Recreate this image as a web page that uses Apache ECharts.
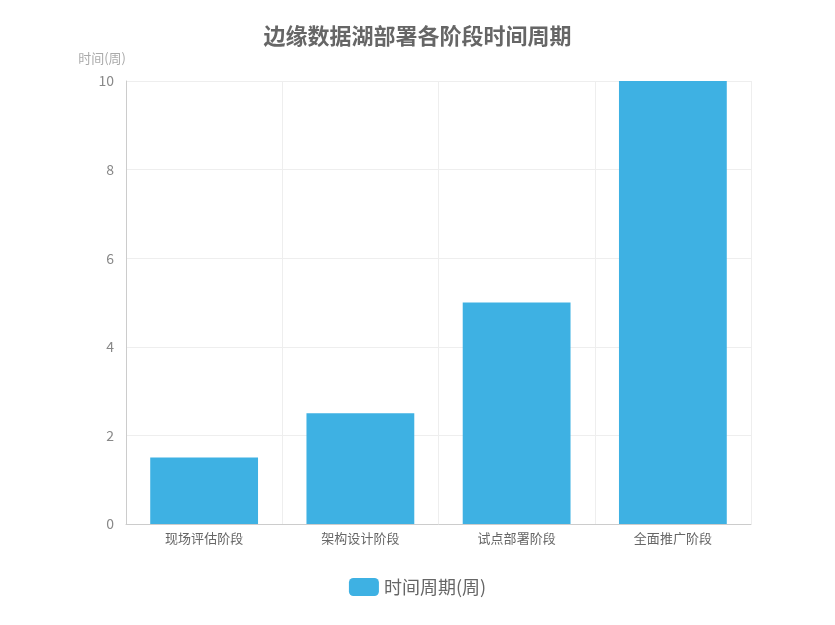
<!DOCTYPE html>
<html><head><meta charset="utf-8">
<script src="https://cdn.jsdelivr.net/npm/echarts@6/dist/echarts.min.js"></script>
<style>html,body{margin:0;padding:0;background:#fff}#c{width:835px;height:625px}</style>
</head><body><div id="c"></div>
<script>
const categories = ['现场评估阶段','架构设计阶段','试点部署阶段','全面推广阶段'];
const durations = [1.5, 2.5, 5, 10];
const seriesName = '时间周期(周)';
const chart = echarts.init(document.getElementById('c'));
chart.setOption({
  textStyle:{fontFamily:'"Noto Sans CJK SC", sans-serif'},
  title:{text:'边缘数据湖部署各阶段时间周期',left:'center',top:20,textStyle:{fontSize:22,fontWeight:'bold',color:'#666'}},
  grid:{left:126,right:84,top:81,bottom:101},
  legend:{bottom:24,itemWidth:30,itemHeight:18,icon:'roundRect',textStyle:{fontSize:18,color:'#666'},data:[seriesName]},
  xAxis:{type:'category',data:categories,axisTick:{show:false},
    axisLine:{lineStyle:{color:'#ccc'}},axisLabel:{color:'#666',fontSize:13},
    splitLine:{show:true,lineStyle:{color:'#eee'}}},
  yAxis:{type:'value',name:'时间(周)',nameTextStyle:{color:'#aaa',fontSize:13,align:'right'},nameGap:16,
    min:0,max:10,interval:2,axisLine:{show:true,lineStyle:{color:'#ccc'}},axisTick:{show:false},
    axisLabel:{color:'#888',fontSize:14,margin:12},splitLine:{lineStyle:{color:'#eee'}}},
  series:[{name:seriesName,type:'bar',data:durations,barWidth:'69%',itemStyle:{color:'#3eb1e3'}}]
});
</script></body></html>
